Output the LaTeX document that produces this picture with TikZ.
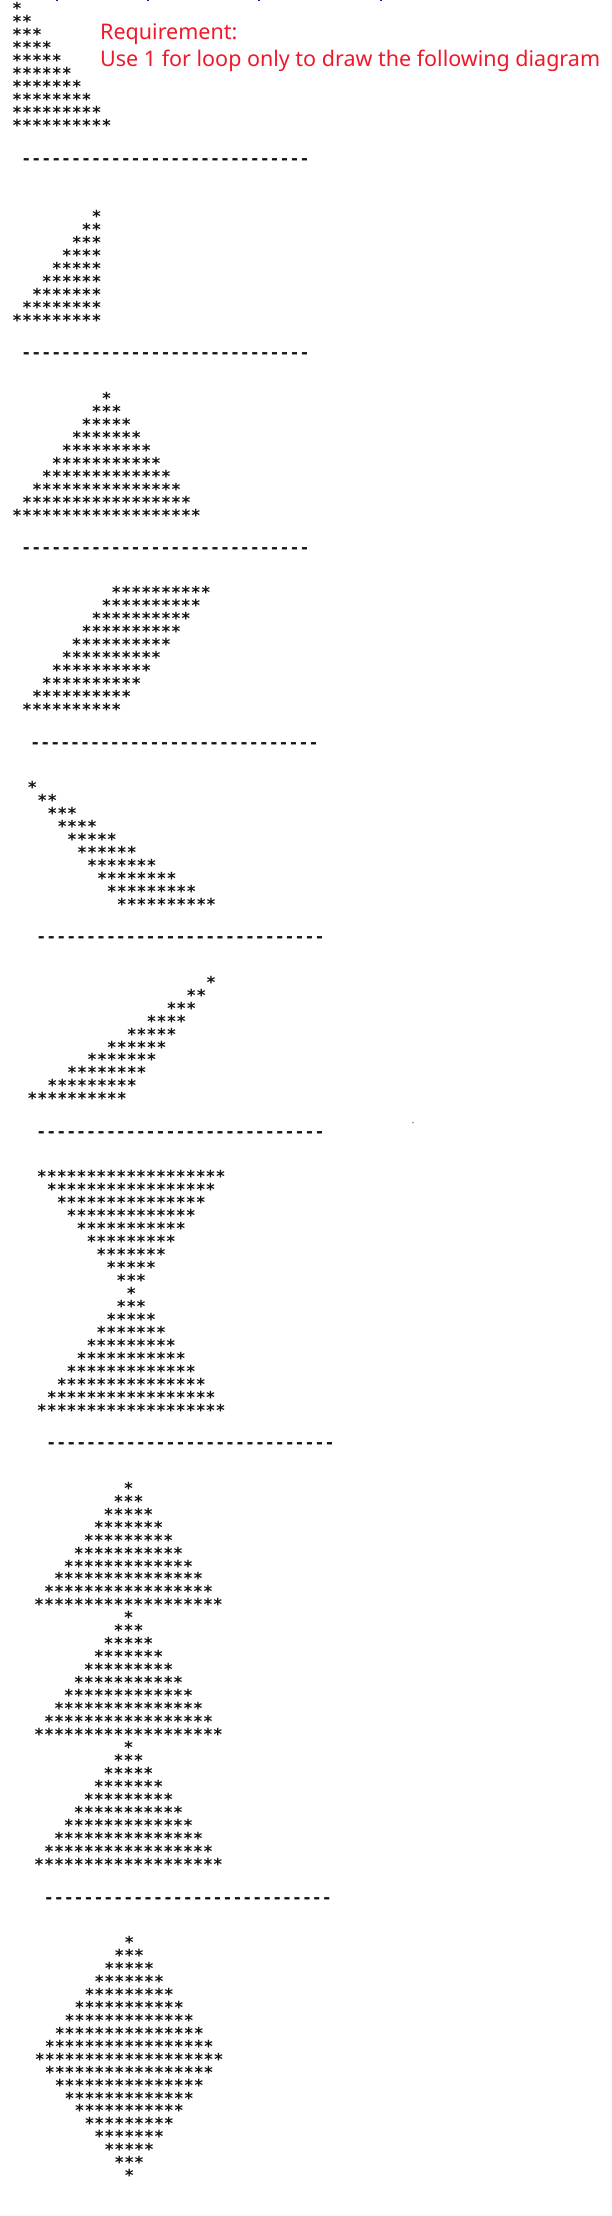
\documentclass[tikz,border=0pt]{standalone}
\usepackage{fontspec}
\setmonofont{DejaVu Sans Mono}
\newfontfamily\notefont{Noto Sans}
\usepackage{tikz}

\definecolor{starink}{RGB}{20,20,20}
\definecolor{notered}{RGB}{240,24,40}
\definecolor{topblue}{RGB}{30,30,150}

% grid of the console output
\newcommand\colw{9.93}
\newcommand\lineh{12.975}
\newcommand\lineo{5.5}
\newcommand\starb{9.5}
% one character cell
\newcommand\cell[1]{\makebox[\colw pt]{#1}}

\tikzset{
    starrow/.style = {font=\ttfamily\bfseries\fontsize{16.5}{13}\selectfont, text=starink,
        inner sep=0pt, anchor=base west},
    dashrow/.style = {starrow, anchor=mid west},
    note/.style = {font=\notefont\fontsize{21.5}{26}\selectfont, text=notered,
        inner sep=0pt, anchor=base west}
}

\begin{document}
\begin{tikzpicture}[x=1pt, y=-1pt]

        \useasboundingbox (0,0) rectangle (612,2216);

        % Cut-off text at the upper edge.
        \fill[topblue] (56,0) rectangle (58,1.5);
        \fill[topblue] (147,0) rectangle (149,1.5);
        \fill[topblue] (258,0) rectangle (260,1.5);
        \fill[topblue] (380,0) rectangle (382,1.5);

        % The requirement in red.
        \node[note] (req) at (100,40) {Requirement:};
        \node[note] (use) at (100,66.5) {Use 1 for loop only to draw the following diagram};

        % Separator lines.
        \foreach \l/\x in {12/21.3, 27/21.3, 42/21.3, 57/30.3, 72/36.3, 87/36.3, 111/46.3, 146/43.7}
            \node[dashrow] (dash-\l) at (\x, {\lineo+\lineh*\l+1}) {\foreach \k in {1,...,29}{\cell{-}}};

        % Left triangle.
        \foreach \n in {1,...,10}
            \node[starrow] (left-\n) at (12, {\lineo+\lineh*(\n-1)+\starb})
                {\foreach \k in {1,...,\n}{\cell{*}}};

        % Right triangle.
        \foreach \n in {1,...,9}
            \node[starrow] (right-\n) at ({12+\colw*(9-\n)}, {\lineo+\lineh*(15+\n)+\starb})
                {\foreach \k in {1,...,\n}{\cell{*}}};

        % Pyramid.
        \foreach \n in {1,...,10} {
            \pgfmathtruncatemacro\m{2*\n-1}
            \node[starrow] (pyr-\n) at ({12+\colw*(10-\n)}, {\lineo+\lineh*(29+\n)+\starb})
                {\foreach \k in {1,...,\m}{\cell{*}}};
        }

        % Parallelogram.
        \foreach \n in {1,...,10}
            \node[starrow] (par-\n) at ({21.9+\colw*(10-\n)}, {\lineo+\lineh*(44+\n)+\starb})
                {\foreach \k in {1,...,10}{\cell{*}}};

        % Staircase down to the right.
        \foreach \n in {1,...,10}
            \node[starrow] (stair-\n) at ({27.3+\colw*(\n-1)}, {\lineo+\lineh*(59+\n)+\starb})
                {\foreach \k in {1,...,\n}{\cell{*}}};

        % Staircase up to the right.
        \foreach \n in {1,...,10}
            \node[starrow] (rise-\n) at ({27.3+2*\colw*(10-\n)}, {\lineo+\lineh*(74+\n)+\starb})
                {\foreach \k in {1,...,\n}{\cell{*}}};

        \fill[gray] (413,1122.7) circle (0.8);

        % Hourglass.
        \foreach \k in {0,...,18} {
            \pgfmathtruncatemacro\d{abs(\k-9)}
            \pgfmathtruncatemacro\m{2*\d+1}
            \node[starrow] (glass-\k) at ({36.7+\colw*(9-\d)}, {\lineo+\lineh*(90+\k)+\starb})
                {\foreach \j in {1,...,\m}{\cell{*}}};
        }

        % Three pyramids, one on another.
        \foreach \p in {0,1,2} {
            \foreach \n in {1,...,10} {
                \pgfmathtruncatemacro\m{2*\n-1}
                \node[starrow] (tree-\p-\n) at ({34+\colw*(10-\n)}, {\lineo+\lineh*(113+10*\p+\n)+\starb})
                    {\foreach \j in {1,...,\m}{\cell{*}}};
            }
        }

        % Diamond.
        \foreach \k in {0,...,18} {
            \pgfmathtruncatemacro\d{abs(\k-9)}
            \pgfmathtruncatemacro\m{19-2*\d}
            \node[starrow] (dia-\k) at ({34.7+\colw*\d}, {\lineo+\lineh*(149+\k)+\starb})
                {\foreach \j in {1,...,\m}{\cell{*}}};
        }

    \end{tikzpicture}
\end{document}
